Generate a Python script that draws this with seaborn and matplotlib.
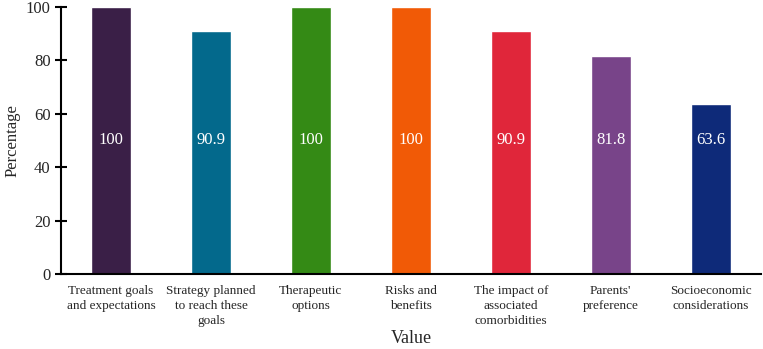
import matplotlib
matplotlib.use("Agg")
import matplotlib.pyplot as plt
import seaborn as sns
import pandas as pd

categories = ["Treatment goals\nand expectations", "Strategy planned\nto reach these\ngoals",
              "Therapeutic\noptions", "Risks and\nbenefits", "The impact of\nassociated\ncomorbidities",
              "Parents'\npreference", "Socioeconomic\nconsiderations"]
values = [100, 90.9, 100, 100, 90.9, 81.8, 63.6]
value_labels = ["100", "90.9", "100", "100", "90.9", "81.8", "63.6"]
colors = ["#3A1F47", "#03698C", "#348A15", "#F15A06", "#E0263A", "#784489", "#0E2A79"]

sns.set_theme(style="white")
plt.rcParams['font.family'] = ['Liberation Serif', 'DejaVu Serif']

df = pd.DataFrame({"cat": categories, "val": values})
fig = plt.figure(figsize=(7.63, 3.49), dpi=100)
ax = fig.add_axes([0.080, 0.215, 0.917, 0.765])
sns.barplot(data=df, x="cat", y="val", hue="cat", palette=colors, width=0.4,
            legend=False, ax=ax, saturation=1)
ax.set_xlim(-0.5, 6.5)
ax.set_ylim(0, 100)
ax.set_yticks([0, 20, 40, 60, 80, 100])
for i, (v, lab) in enumerate(zip(values, value_labels)):
    ax.text(i, 50, lab, ha="center", va="center", color="white", fontsize=12)
for s in ["top", "right"]:
    ax.spines[s].set_visible(False)
for s in ["left", "bottom"]:
    ax.spines[s].set_color("black")
    ax.spines[s].set_linewidth(1.5)
ax.tick_params(axis="y", direction="inout", length=8, width=1.5, labelsize=12, color="black", left=True)
ax.tick_params(axis="x", length=0, labelsize=9.5, pad=8)
for t in ax.get_xticklabels():
    t.set_linespacing(1.35)
ax.set_ylabel("Percentage", fontsize=12)
ax.set_xlabel("Value", fontsize=13, labelpad=2)
ax.set_facecolor("white")
fig.savefig("out.png", dpi=100)
